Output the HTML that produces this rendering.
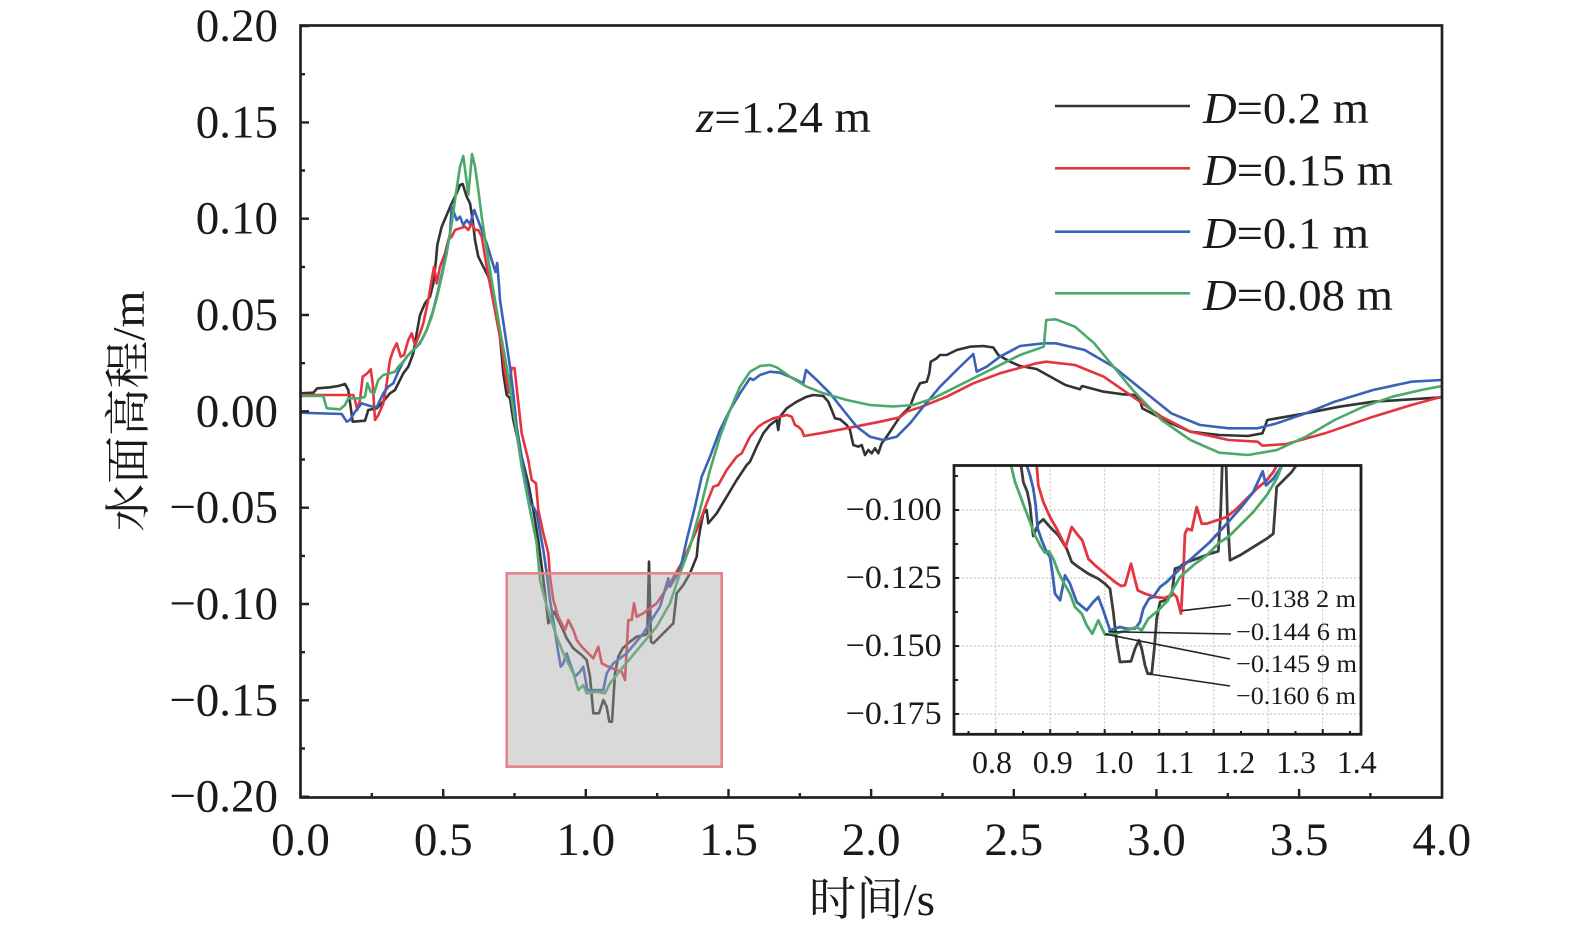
<!DOCTYPE html>
<html>
<head>
<meta charset="utf-8">
<style>
html,body{margin:0;padding:0;background:#fff;}
svg{display:block;}
text{font-family:"Liberation Serif","Noto Serif CJK SC",serif;fill:#1a1a1a;}
</style>
</head>
<body>
<svg width="1575" height="932" viewBox="0 0 1575 932" xmlns="http://www.w3.org/2000/svg">
<defs>
<clipPath id="mainclip"><rect x="300.5" y="25.5" width="1141.5" height="772"/></clipPath>
<clipPath id="insetclip"><rect x="954" y="465.5" width="407" height="268.8"/></clipPath>
</defs>
<rect x="0" y="0" width="1575" height="932" fill="#fff"/>

<!-- main curves -->
<g clip-path="url(#mainclip)" fill="none" stroke-width="2.6" stroke-linejoin="round" stroke-linecap="round">
<path stroke="#333333" d="M300.7,393.3 L313.3,392.7 L317.3,388.3 L330,387.3 L338.3,386 L345,384 L348.3,390 L352.7,421.7 L365,420.7 L368.3,410 L376.7,408.3 L381.7,403.3 L390,393.3 L395,390 L398.3,383.3 L403.3,373.3 L408.3,366.7 L413.3,353.3 L416.7,333.3 L420,315 L425,303.3 L430,296.7 L433.3,283.3 L436,260 L437.3,245 L441.7,226.7 L446.7,215 L451.7,203.3 L456.7,193.3 L460,185 L462.7,184 L466.7,196.7 L470,203.3 L472.7,220 L475,240 L478.3,256.7 L483.3,266.7 L488.3,276.7 L493.3,293.3 L496.7,313.3 L500,336.7 L503.3,373.3 L506.7,395 L510,398.3 L513.3,420 L520,450 L528.3,483.3 L533.3,510 L538.3,540 L541.7,566.7 L545,593.3 L548.3,623.3 L554,611.7 L560,623.3 L566.7,638.3 L573.3,648.3 L581.7,655 L586.7,660 L590,676.7 L593.3,713.3 L599,713.3 L603.3,700 L606.7,706.7 L609.3,721.7 L612,721.7 L615,673.3 L618.3,656.7 L622.7,648.3 L630,641.7 L636.7,636.7 L645,635 L647.3,633.3 L649,561.7 L651,641.7 L653.3,643.3 L673.3,623.3 L676.7,593.3 L683.3,585 L690,573.3 L696.7,556.7 L698.3,540 L700,530 L703.3,513.3 L706.7,510 L708.3,523.3 L716.7,513.3 L726.7,496.7 L736.7,480 L746.7,465 L750,461.7 L756.7,446.7 L763.3,433.3 L770,425 L776.7,420 L778.3,430 L780,416.7 L786.7,408.3 L796.7,401.7 L806.7,396.7 L813.3,395 L823.3,396 L828.3,401.7 L831.7,410 L835,418.3 L840,419.3 L846.7,425 L850,430 L853.3,445 L858.3,446.7 L861.7,445 L865,455 L868.3,450 L871.7,453.3 L875,448.3 L878.3,453.3 L881.7,443.3 L886.7,436.7 L893.3,426.7 L900,416.7 L910,406.7 L915,393.3 L920,383.3 L926.7,381.7 L929.3,373.3 L930.7,361.7 L936.7,358.3 L940,355 L946.7,355 L956.7,350 L970,346.7 L983.3,346 L993.3,347.5 L998.3,355 L1010,361.7 L1020,366 L1036.5,369 L1065.4,385 L1079.8,389.3 L1082.2,386 L1103.8,391.7 L1123.1,394.3 L1135.1,395 L1139.9,400 L1142.3,408.3 L1151.9,413.3 L1171.2,423.3 L1190.4,431.7 L1219.2,435 L1248,436 L1262.5,433.3 L1267.3,420 L1276.9,418.3 L1305.8,413.3 L1339.4,406.7 L1373.1,401.7 L1411.5,399.3 L1442,397.3"/>
<path stroke="#e3343f" d="M300.7,395 L353.3,395 L355,400 L357.3,410 L360,400 L362.7,376.7 L367.3,373.3 L370.7,369.3 L372.7,383.3 L375,420 L378.3,415 L383.3,403.3 L386.7,383.3 L390,360 L393.3,350 L396.7,343.3 L400.7,356.7 L404,355 L408.3,340 L411.7,333.3 L415,345 L420,333.3 L423.3,323.3 L428.3,300 L431.7,280 L434,266.7 L436.7,283.3 L440,266.7 L445,253.3 L448.3,240 L451.7,236.7 L455,230 L460,228.3 L465,226.7 L468.3,230 L471.7,223.3 L475,230 L478.3,230 L481.7,236.7 L486.7,266.7 L491.7,293.3 L496.7,320 L501.7,346.7 L505,372 L508.7,393 L511.5,368 L514.5,368 L517.3,393.3 L521.7,433.3 L528.3,460 L531.7,480 L536,483.3 L538.3,510 L543.3,533.3 L548.3,553.3 L550,576.7 L553.3,600 L558.3,616.7 L565,630 L568.3,620 L573.3,630 L576.7,640 L581.7,646.7 L593.3,658.3 L598.3,646.7 L601.7,663.3 L608.3,666.7 L616.7,670 L621.7,671.7 L625,680 L628.3,620 L631.7,620 L634,603.3 L636.7,616.7 L643.3,613.3 L656.7,603.3 L670,583.3 L683.3,560 L696.7,530 L706.7,503.3 L713.3,486.7 L718.3,485 L726.7,470 L736.7,456.7 L741.7,453.3 L750,436.7 L758.3,426.7 L763.3,423.3 L770,420 L773.3,418.3 L780,416.7 L786.7,415 L791.7,416.7 L795,425 L798.3,426.7 L801.7,430 L804,436 L820,433.3 L846.7,428.3 L880,421.7 L900,417.3 L906.7,411.7 L920,407.3 L946.7,396.7 L973.3,383.3 L1000,373.3 L1036.5,363.3 L1046.2,361.7 L1075,365 L1103.8,376.7 L1132.7,396.7 L1161.5,416.7 L1190.4,431.7 L1228.8,440 L1257.7,441.7 L1262.5,445.7 L1286.5,444 L1325,433.3 L1373.1,416.7 L1411.5,405 L1442,396.7"/>
<path stroke="#3b62b6" d="M300.7,412.7 L341.7,414 L346.7,421.7 L350,420 L355,411.7 L361.7,403.3 L370,406 L376.7,407.3 L383.3,393.3 L388.3,386.7 L393.3,383.3 L398.3,371.7 L403.3,361.7 L408.3,355 L413.3,350 L420,343.3 L426.7,330 L433.3,310 L438.3,290 L443.3,266.7 L446.7,250 L450,233.3 L451.7,206.7 L456.7,220 L460,216.7 L463.3,225 L466.7,220 L470,224 L474.3,210 L477.3,218.3 L481.7,230 L486.7,243.3 L491.7,260 L495.5,272 L497.2,263 L499,285 L500,300 L505,333.3 L510,366.7 L513.3,393.3 L516.7,426.7 L523.3,466.7 L530,503.3 L533.3,506.7 L536.7,513.3 L543.3,550 L546.7,573.3 L550,600 L553.3,620 L557.3,646.7 L560.7,666.7 L563.3,663.3 L566.7,653.3 L570,663.3 L575,676.7 L580,671.7 L583.3,666.7 L587.3,690 L593.3,690 L603.3,690 L606.7,673.3 L613.3,663.3 L626.7,653.3 L643.3,633.3 L660,606.7 L668.3,578.3 L670,586.7 L680,570 L686.7,540 L690,526.7 L695,506.7 L701.7,476.7 L710,456.7 L720,430 L730,410 L740,393.3 L750,378.3 L753.3,380 L760,375 L770,371.7 L780,372.7 L793.3,378.3 L803.3,383.3 L806,370 L816.7,380 L830,393.3 L843.3,410 L856.7,426.7 L870,436.7 L883.3,440 L896.7,436.7 L910,423.3 L923.3,406.7 L940,386.7 L956.7,370 L973.3,354 L976.7,371.7 L986.7,366.7 L1000,356.7 L1020,346 L1043.8,343.3 L1055.8,343.3 L1084.6,350 L1113.5,366.7 L1142.3,390 L1171.2,413.3 L1200,425 L1228.8,428.3 L1257.7,428.3 L1276.9,423.3 L1305.8,413.3 L1334.6,401.7 L1373.1,390 L1411.5,381.7 L1442,380"/>
<path stroke="#4caa68" d="M300.7,396 L323.3,396 L326.7,408.3 L340,409.3 L345,405 L348.3,398.3 L360,398.3 L365,396.7 L367.3,383.3 L370.7,391.7 L374,393.3 L378.3,380 L383.3,375 L390,373.3 L395,371.7 L398.3,366.7 L403.3,361.7 L406.7,356.7 L411.7,351.7 L416.7,346.7 L421.7,340 L426.7,330 L431.7,316.7 L436.7,298.3 L441.7,276.7 L446.7,253.3 L451.7,223.3 L456,193.3 L460,166.7 L463.3,156 L466,176.7 L468.3,195 L470,176.7 L472,154 L475,166.7 L478.3,190 L481.7,216.7 L486.7,250 L493.3,290 L500,330 L506.7,366.7 L513.3,410 L516.7,433.3 L521.7,466.7 L530,510 L536.7,543.3 L540,580 L545,600 L550,616.7 L556.7,636.7 L563.3,653.3 L573.3,673.3 L578.3,690 L583.3,685 L586.7,693.3 L596.7,691.7 L605,693.3 L610,683.3 L623.3,666.7 L640,646.7 L656.7,626.7 L670,603.3 L680,573.3 L690,546.7 L700,510 L710,470 L720,436.7 L730,410 L740,386.7 L750,371.7 L760,366 L770,365 L776.7,367.3 L790,376.7 L806.7,386.7 L823.3,393.3 L846.7,400 L870,405 L893.3,406.5 L913.3,405 L933.3,398.3 L953.3,388.3 L973.3,378.3 L996.7,366.7 L1020,355 L1043.8,346.7 L1046.2,320 L1055.8,319.3 L1075,326.7 L1094.2,343.3 L1113.5,366.7 L1132.7,390 L1161.5,420 L1190.4,440 L1219.2,452.7 L1248,455 L1276.9,450 L1305.8,436.7 L1334.6,420 L1363.5,406.7 L1392.3,396.7 L1421.2,390 L1442,386"/>
</g>

<!-- highlight box -->
<rect x="506.7" y="573.3" width="215" height="193.4" fill="rgba(166,166,166,0.43)" stroke="#e5858b" stroke-width="2.6"/>

<!-- main frame -->
<rect x="300.5" y="25.5" width="1141.5" height="772" fill="none" stroke="#222" stroke-width="2.7"/>
<g stroke="#222" stroke-width="2.4">
<path d="M300.5,26 H309 M300.5,122.4 H309 M300.5,218.7 H309 M300.5,315 H309 M300.5,411.3 H309 M300.5,507.7 H309 M300.5,604 H309 M300.5,700.3 H309 M300.5,796.7 H309"/>
<path d="M300.5,74.2 H305 M300.5,170.5 H305 M300.5,266.9 H305 M300.5,363.2 H305 M300.5,459.5 H305 M300.5,555.9 H305 M300.5,652.2 H305 M300.5,748.5 H305"/>
<path d="M443.2,797.5 V789 M585.8,797.5 V789 M728.5,797.5 V789 M871.1,797.5 V789 M1013.8,797.5 V789 M1156.4,797.5 V789 M1299.1,797.5 V789"/>
<path d="M371.8,797.5 V793 M514.5,797.5 V793 M657.2,797.5 V793 M799.8,797.5 V793 M942.5,797.5 V793 M1085.1,797.5 V793 M1227.8,797.5 V793 M1370.4,797.5 V793"/>
</g>

<!-- y tick labels -->
<g font-size="47" text-anchor="end">
<text x="278" y="41">0.20</text>
<text x="278" y="137.4">0.15</text>
<text x="278" y="233.7">0.10</text>
<text x="278" y="330">0.05</text>
<text x="278" y="426.3">0.00</text>
<text x="278" y="522.7">−0.05</text>
<text x="278" y="619">−0.10</text>
<text x="278" y="715.3">−0.15</text>
<text x="278" y="811.7">−0.20</text>
</g>
<!-- x tick labels -->
<g font-size="47" text-anchor="middle">
<text x="300.5" y="855">0.0</text>
<text x="443.2" y="855">0.5</text>
<text x="585.8" y="855">1.0</text>
<text x="728.5" y="855">1.5</text>
<text x="871.1" y="855">2.0</text>
<text x="1013.8" y="855">2.5</text>
<text x="1156.4" y="855">3.0</text>
<text x="1299.1" y="855">3.5</text>
<text x="1441.7" y="855">4.0</text>
</g>

<!-- axis titles -->
<text transform="translate(144,411) rotate(-90)" text-anchor="middle" font-size="46" textLength="241" lengthAdjust="spacingAndGlyphs">水面高程/m</text>
<text x="872" y="915" text-anchor="middle" font-size="46" textLength="126" lengthAdjust="spacingAndGlyphs">时间/s</text>

<!-- z label -->
<text x="696" y="132" font-size="44" textLength="175" lengthAdjust="spacingAndGlyphs"><tspan font-style="italic">z</tspan>=1.24 m</text>

<!-- legend -->
<g stroke-width="2.6">
<line x1="1055" y1="106" x2="1190" y2="106" stroke="#333333"/>
<line x1="1055" y1="168.3" x2="1190" y2="168.3" stroke="#e3343f"/>
<line x1="1055" y1="231.7" x2="1190" y2="231.7" stroke="#3b62b6"/>
<line x1="1055" y1="293.3" x2="1190" y2="293.3" stroke="#4caa68"/>
</g>
<g font-size="44">
<text x="1203" y="123" textLength="166" lengthAdjust="spacingAndGlyphs"><tspan font-style="italic">D</tspan>=0.2 m</text>
<text x="1203" y="185" textLength="190" lengthAdjust="spacingAndGlyphs"><tspan font-style="italic">D</tspan>=0.15 m</text>
<text x="1203" y="248" textLength="166" lengthAdjust="spacingAndGlyphs"><tspan font-style="italic">D</tspan>=0.1 m</text>
<text x="1203" y="310" textLength="190" lengthAdjust="spacingAndGlyphs"><tspan font-style="italic">D</tspan>=0.08 m</text>
</g>

<!-- inset -->
<rect x="954" y="465.5" width="407" height="268.8" fill="#fff"/>
<g stroke="#bdbdbd" stroke-width="1" stroke-dasharray="2,2">
<path d="M995.7,465.5 V734.3 M1050.2,465.5 V734.3 M1104.7,465.5 V734.3 M1159.2,465.5 V734.3 M1213.7,465.5 V734.3 M1268.2,465.5 V734.3 M1322.7,465.5 V734.3"/>
<path d="M954,510 H1361 M954,578 H1361 M954,646 H1361 M954,714 H1361"/>
</g>
<g clip-path="url(#insetclip)" fill="none" stroke-width="2.8" stroke-linejoin="round" stroke-linecap="round">
<path stroke="#3d3d3d" d="M1019,455 L1021,465.3 L1023.3,482 L1027.3,492 L1030,505.3 L1032.3,528.7 L1033.3,536 L1038.3,523.7 L1043.3,519.3 L1050,527 L1058.3,535.3 L1066.7,548.7 L1071.7,562 L1078.3,567 L1088.3,573.7 L1098.3,578.7 L1105,583.7 L1110,588.7 L1113.3,612 L1116.7,642 L1120,662 L1131,661.3 L1135,648.7 L1139,640.3 L1141.7,648.7 L1145,665.3 L1147.7,673.7 L1151.7,673.7 L1154.3,648.7 L1156.7,618.7 L1160,602 L1165,600.3 L1171.7,595.3 L1175,568.7 L1180,567 L1183.3,563.7 L1196.7,558.7 L1210,553.7 L1218.3,551.3 L1220.7,512 L1223,440 L1225.5,440 L1227.3,512 L1230,560.3 L1240,555.3 L1253.3,547 L1266.7,538.7 L1273.3,533.7 L1276.7,487 L1281.7,482 L1291.7,472 L1300,460"/>
<path stroke="#e3343f" d="M1035,455 L1036.7,465.3 L1038.3,485.3 L1043.3,502 L1050,517 L1056.7,528.7 L1065.7,547 L1071.7,527 L1076.7,533.7 L1082.3,540.3 L1088.3,558.7 L1095,565.3 L1105,573.7 L1115,582 L1121,586 L1125,585.3 L1131,563.7 L1134.3,577 L1137.7,590.3 L1145,593.7 L1155,597 L1165,598 L1173.3,593.7 L1176.7,597 L1181,613.7 L1183.3,572 L1185,533.7 L1187.3,528.7 L1191.7,530.3 L1196.7,507 L1201.7,523.7 L1206.7,523.7 L1216.7,520.3 L1226.7,517 L1236.7,508.7 L1246.7,498.7 L1256.7,488.7 L1266.7,480.3 L1273.3,472 L1280,460"/>
<path stroke="#3b62b6" d="M1024,455 L1026.7,465.3 L1030,475.3 L1033.3,488.7 L1035.7,505.3 L1037.7,528.7 L1041.7,540.3 L1046.7,552 L1050,557 L1052.3,572 L1055,593.7 L1060,600.3 L1065,575.3 L1070,583.7 L1076.7,602 L1086.7,610.3 L1093.3,602 L1098.3,597 L1103.3,610.3 L1110,630.3 L1120,627 L1126.7,628.7 L1135,628.7 L1140,622 L1143.3,608.7 L1149,598.7 L1153.3,597 L1160,587 L1166.7,582 L1180,568.7 L1193.3,557 L1210,542 L1226.7,523.7 L1240,508.7 L1253.3,492 L1262.7,471.3 L1266,485.3 L1273.3,478.7 L1280,468.7 L1286,458"/>
<path stroke="#4caa68" d="M1008,455 L1011,465.3 L1015,482 L1020,495.3 L1025,508.7 L1030,522 L1035,535.3 L1040,545.3 L1045,552.7 L1049,551.3 L1053.3,558.7 L1058.3,572 L1063.3,582 L1070,593.7 L1075,607 L1081.7,613.7 L1086.7,625.3 L1092.3,633.7 L1098.3,620.3 L1105,634.7 L1115,633.7 L1126.7,630.3 L1136.7,627 L1141.7,630.3 L1148.3,618.7 L1158.3,610.3 L1168,600.3 L1172,591 L1180,577 L1193.3,565.3 L1206.7,555.3 L1220,542 L1228.3,537 L1240,525.3 L1253.3,512 L1266.7,495.3 L1276.7,478.7 L1285,458"/>
</g>
<!-- annotation leader lines -->
<g stroke="#222" stroke-width="1.6" fill="none">
<line x1="1181.7" y1="610.7" x2="1231" y2="605"/>
<line x1="1108.3" y1="631.7" x2="1231" y2="634"/>
<line x1="1105" y1="634" x2="1230" y2="659"/>
<line x1="1149.3" y1="674" x2="1230" y2="686"/>
</g>
<g font-size="25">
<text x="1236" y="607" textLength="120" lengthAdjust="spacingAndGlyphs">−0.138 2 m</text>
<text x="1236" y="640" textLength="121" lengthAdjust="spacingAndGlyphs">−0.144 6 m</text>
<text x="1236" y="672" textLength="121" lengthAdjust="spacingAndGlyphs">−0.145 9 m</text>
<text x="1236" y="704" textLength="120" lengthAdjust="spacingAndGlyphs">−0.160 6 m</text>
</g>
<!-- inset frame & ticks -->
<rect x="954" y="465.5" width="407" height="268.8" fill="none" stroke="#1e1e1e" stroke-width="2.8"/>
<g stroke="#1e1e1e" stroke-width="2">
<path d="M954,510 H959 M954,578 H959 M954,646 H959 M954,714 H959 M954,476 H958 M954,544 H958 M954,612 H958 M954,680 H958"/>
<path d="M995.7,734.3 V729 M1050.2,734.3 V729 M1104.7,734.3 V729 M1159.2,734.3 V729 M1213.7,734.3 V729 M1268.2,734.3 V729 M1322.7,734.3 V729"/>
<path d="M968.5,734.3 V731 M1023,734.3 V731 M1077.5,734.3 V731 M1132,734.3 V731 M1186.5,734.3 V731 M1241,734.3 V731 M1295.5,734.3 V731 M1350,734.3 V731"/>
</g>
<g font-size="33" text-anchor="end">
<text x="941.7" y="520" textLength="96" lengthAdjust="spacingAndGlyphs">−0.100</text>
<text x="941.7" y="588" textLength="96" lengthAdjust="spacingAndGlyphs">−0.125</text>
<text x="941.7" y="656" textLength="96" lengthAdjust="spacingAndGlyphs">−0.150</text>
<text x="941.7" y="724" textLength="96" lengthAdjust="spacingAndGlyphs">−0.175</text>
</g>
<g font-size="32" text-anchor="middle">
<text x="992" y="773">0.8</text>
<text x="1052.8" y="773">0.9</text>
<text x="1113.6" y="773">1.0</text>
<text x="1174.4" y="773">1.1</text>
<text x="1235.2" y="773">1.2</text>
<text x="1296" y="773">1.3</text>
<text x="1356.8" y="773">1.4</text>
</g>
</svg>
</body>
</html>
